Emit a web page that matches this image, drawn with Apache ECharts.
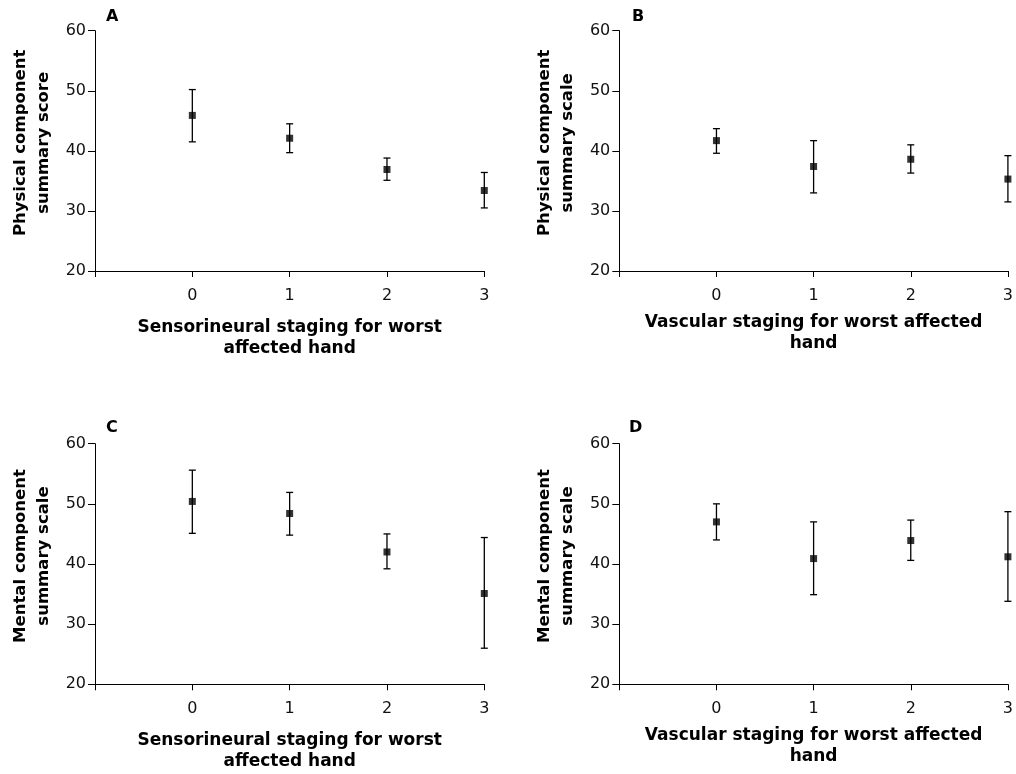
<!DOCTYPE html>
<html><head><meta charset="utf-8">
<script src="https://cdn.jsdelivr.net/npm/echarts@6/dist/echarts.min.js"></script>
<style>html,body{margin:0;padding:0;background:#fff}#c{width:1016px;height:774px}</style>
</head><body><div id="c"></div>
<script>
const stages = [0, 1, 2, 3];
const xTickLabels = ['0', '1', '2', '3'];
const yTicks = [20, 30, 40, 50, 60];

const aMean = [45.9, 42.1, 36.9, 33.4];
const aLow  = [41.5, 39.7, 35.1, 30.5];
const aHigh = [50.2, 44.5, 38.8, 36.4];

const bMean = [41.7, 37.4, 38.6, 35.3];
const bLow  = [39.6, 33.0, 36.3, 31.5];
const bHigh = [43.7, 41.7, 41.0, 39.2];

const cMean = [50.4, 48.4, 42.0, 35.1];
const cLow  = [45.1, 44.8, 39.2, 26.0];
const cHigh = [55.6, 51.9, 45.0, 44.4];

const dMean = [47.0, 40.9, 43.9, 41.2];
const dLow  = [44.0, 34.9, 40.6, 33.8];
const dHigh = [50.0, 47.0, 47.3, 48.7];

const panelLetters = ['A', 'B', 'C', 'D'];
const xTitles = ['Sensorineural staging for worst\naffected hand', 'Vascular staging for worst affected\nhand',
                 'Sensorineural staging for worst\naffected hand', 'Vascular staging for worst affected\nhand'];
const yTitles = ['Physical component\nsummary score', 'Physical component\nsummary scale',
                 'Mental component\nsummary scale', 'Mental component\nsummary scale'];

const panels = [
  {mean: aMean, low: aLow, high: aHigh},
  {mean: bMean, low: bLow, high: bHigh},
  {mean: cMean, low: cLow, high: cHigh},
  {mean: dMean, low: dLow, high: dHigh}
];

const gridPos = [
  {left: 95, top: 30.7, width: 389.3, height: 240.3},
  {left: 619.3, top: 30.7, width: 389, height: 240.3},
  {left: 95, top: 443.7, width: 389.3, height: 240.6},
  {left: 619.3, top: 443.7, width: 389, height: 240.6}
];
const xNameGap = [46, 41, 46, 41];
const letterPos = [[106, 9], [632, 9], [106, 420], [629, 420]];

const FONT = '"DejaVu Sans", "Liberation Sans", sans-serif';
const grid = [], xAxis = [], yAxis = [], series = [], graphic = [];

panels.forEach((p, i) => {
  grid.push(Object.assign({containLabel: false}, gridPos[i]));
  xAxis.push({
    type: 'value', gridIndex: i, min: -1, max: 3, interval: 1,
    axisLine: {onZero: false, lineStyle: {color: '#000', width: 1}},
    axisTick: {length: 6, lineStyle: {color: '#000'}},
    splitLine: {show: false},
    axisLabel: {
      color: '#111', fontSize: 16, fontFamily: FONT, margin: 17,
      formatter: v => (v >= 0 ? xTickLabels[v] : '')
    },
    name: xTitles[i], nameLocation: 'middle', nameGap: xNameGap[i],
    nameTextStyle: {color: '#000', fontSize: 17, fontWeight: 'bold', fontFamily: FONT, lineHeight: 21}
  });
  yAxis.push({
    type: 'value', gridIndex: i, min: yTicks[0], max: yTicks[yTicks.length - 1], interval: 10,
    axisLine: {show: true, onZero: false, lineStyle: {color: '#000', width: 1}},
    axisTick: {show: true, length: 7, lineStyle: {color: '#000'}},
    splitLine: {show: false},
    axisLabel: {color: '#111', fontSize: 16, fontFamily: FONT, margin: 9},
    name: yTitles[i], nameLocation: 'middle', nameGap: 40, nameRotate: 90,
    nameTextStyle: {color: '#000', fontSize: 16.5, fontWeight: 'bold', fontFamily: FONT, lineHeight: 23, padding: [0, 0, 0, 16]}
  });
  const errData = stages.map((s, k) => [s, p.low[k], p.high[k]]);
  series.push({
    type: 'custom', xAxisIndex: i, yAxisIndex: i, data: errData, clip: false,
    renderItem: (params, api) => {
      const x = api.value(0);
      const lo = api.coord([x, api.value(1)]);
      const hi = api.coord([x, api.value(2)]);
      const w = 3.5;
      const st = {stroke: '#000', lineWidth: 1.3};
      return {type: 'group', children: [
        {type: 'line', shape: {x1: lo[0], y1: lo[1], x2: hi[0], y2: hi[1]}, style: st},
        {type: 'line', shape: {x1: lo[0] - w, y1: lo[1], x2: lo[0] + w, y2: lo[1]}, style: st},
        {type: 'line', shape: {x1: hi[0] - w, y1: hi[1], x2: hi[0] + w, y2: hi[1]}, style: st}
      ]};
    }
  });
  series.push({
    type: 'scatter', xAxisIndex: i, yAxisIndex: i, symbol: 'rect', symbolSize: 7,
    itemStyle: {color: '#000'}, clip: false,
    data: stages.map((s, k) => [s, p.mean[k]])
  });
  graphic.push({
    type: 'text', left: letterPos[i][0], top: letterPos[i][1],
    style: {text: panelLetters[i], font: 'bold 16px ' + FONT, fill: '#000'}
  });
});

const chart = echarts.init(document.getElementById('c'), null, {renderer: 'canvas'});
chart.setOption({animation: false, backgroundColor: '#fff', grid, xAxis, yAxis, series, graphic});
</script></body></html>
